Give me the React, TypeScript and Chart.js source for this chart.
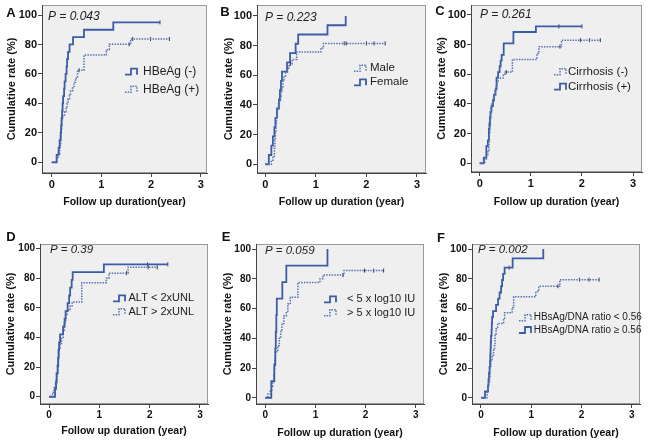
import React, { useEffect, useRef } from "react";
import { Chart, registerables } from "chart.js";
Chart.register(...registerables);

const FONT = '"Liberation Sans", Arial, Helvetica, sans-serif';
const SOLID = "#3d5ca8";
const DOTTED = "#5872b4";
const MARK = "#2a3558";

const xTicks = [0, 1, 2, 3];
const yTicks = [0, 20, 40, 60, 80, 100];
const yTitle = "Cumulative rate (%)";
const xTitles = [
  "Follow up duration(year)",
  "Follow up duration (year)",
  "Follow up duration (year)",
  "Follow up duration (year)",
  "Follow up duration (year)",
  "Follow up duration (year)",
];
const panelLetters = ["A", "B", "C", "D", "E", "F"];
const pValues = ["0.043", "0.223", "0.261", "0.39", "0.059", "0.002"];

// Panel A
const hbeagNegTimes = [0, 0.1, 0.14, 0.16, 0.18, 0.19, 0.2, 0.21, 0.22, 0.23, 0.25, 0.26, 0.28, 0.3, 0.31, 0.33, 0.36, 0.43, 0.65, 1.24];
const hbeagNegRates = [0, 5, 10, 15, 20, 25, 30, 35, 40, 45, 50, 55, 60, 65, 70, 75, 80, 85, 90, 95];
const hbeagNegCensored = [2.18];
const hbeagPosTimes = [0, 0.1, 0.13, 0.16, 0.18, 0.19, 0.2, 0.22, 0.26, 0.29, 0.31, 0.33, 0.36, 0.38, 0.42, 0.45, 0.48, 0.52, 0.65, 1.1, 1.16, 1.59];
const hbeagPosRates = [0, 2.9, 5.7, 11.4, 17.1, 22.9, 28.6, 31.4, 34.3, 37.1, 40, 42.9, 45.7, 48.6, 51.4, 54.3, 57.1, 62.5, 72.9, 76.5, 80.1, 83.7];
const hbeagPosCensored = [0.55, 1.56, 1.63, 1.99, 2.37];

// Panel B
const maleTimes = [0, 0.12, 0.15, 0.18, 0.19, 0.2, 0.21, 0.22, 0.24, 0.26, 0.28, 0.3, 0.31, 0.33, 0.35, 0.37, 0.4, 0.44, 0.47, 0.53, 0.62, 1.1, 1.15];
const maleRates = [0, 2.7, 5.4, 10.8, 16.2, 21.6, 27, 32.4, 37.8, 40.5, 43.2, 45.9, 48.6, 51.4, 56.8, 59.5, 62.2, 64.9, 67.6, 70.7, 75.7, 78.4, 81.5];
const maleCensored = [0.5, 1.56, 1.6, 2.0, 2.15, 2.37];
const femaleTimes = [0, 0.07, 0.12, 0.15, 0.18, 0.2, 0.23, 0.27, 0.29, 0.31, 0.33, 0.43, 0.49, 0.6, 0.65, 1.23, 1.59];
const femaleRates = [0, 6.25, 12.5, 18.75, 25, 31.25, 37.5, 43.75, 50, 56.25, 62.5, 68.75, 75, 81.25, 87.5, 93.75, 100];
const femaleCensored: number[] = [];

// Panel C
const cirrNegTimes = [0, 0.1, 0.13, 0.16, 0.18, 0.19, 0.2, 0.21, 0.22, 0.24, 0.26, 0.28, 0.3, 0.32, 0.34, 0.36, 0.46, 0.5, 0.64, 1.12, 1.16, 1.6];
const cirrNegRates = [0, 2.9, 5.7, 8.6, 14.3, 20, 25.7, 31.4, 37.1, 40, 42.9, 45.7, 48.6, 51.4, 54.3, 57.5, 60, 61.5, 70, 74, 78.6, 83];
const cirrNegCensored = [0.52, 1.57, 1.97, 2.15, 2.36];
const cirrPosTimes = [0, 0.08, 0.13, 0.16, 0.18, 0.19, 0.2, 0.21, 0.23, 0.26, 0.28, 0.31, 0.33, 0.36, 0.39, 0.41, 0.43, 0.47, 0.66, 1.1];
const cirrPosRates = [0, 3.8, 11.5, 15.4, 23.1, 26.9, 30.8, 34.6, 38.5, 42.3, 46.2, 50, 57.7, 61.5, 65.4, 69.2, 73.1, 80.8, 88.5, 92.3];
const cirrPosCensored = [1.55, 2.0];

// Panel D
const altLowTimes = [0, 0.12, 0.14, 0.15, 0.17, 0.18, 0.19, 0.2, 0.22, 0.28, 0.31, 0.33, 0.37, 0.4, 0.42, 0.45, 0.47, 1.09];
const altLowRates = [0, 5.3, 10.5, 15.8, 21.1, 26.3, 31.6, 36.8, 42.1, 47.4, 52.6, 57.9, 63.2, 68.4, 73.7, 78.9, 84.2, 89.5];
const altLowCensored = [1.96, 2.36];
const altHighTimes = [0, 0.07, 0.1, 0.13, 0.16, 0.18, 0.19, 0.2, 0.22, 0.25, 0.28, 0.3, 0.33, 0.36, 0.42, 0.46, 0.65, 1.14, 1.19, 1.57];
const altHighRates = [0, 3, 6, 9, 15, 21, 27, 33, 36, 40, 45, 50, 55, 58.5, 61.5, 64, 77, 80, 83.5, 87.5];
const altHighCensored = [1.54, 1.97, 2.15];

// Panel E
const dnaLowTimes = [0, 0.12, 0.18, 0.2, 0.21, 0.22, 0.23, 0.34, 0.42, 1.24];
const dnaLowRates = [0, 11.1, 22.2, 33.3, 44.4, 55.6, 66.7, 77.8, 88.9, 100];
const dnaLowCensored: number[] = [];
const dnaHighTimes = [0, 0.05, 0.1, 0.13, 0.15, 0.17, 0.18, 0.19, 0.2, 0.25, 0.28, 0.31, 0.33, 0.37, 0.42, 0.45, 0.5, 0.65, 1.09, 1.15, 1.57];
const dnaHighRates = [0, 2.5, 5, 7.5, 10, 15, 20, 25, 31, 35, 40, 45.5, 50, 55, 58, 63, 67.6, 77.5, 80, 82.5, 85.5];
const dnaHighCensored = [1.55, 1.98, 2.16, 2.36];

// Panel F
const ratioLowTimes = [0, 0.12, 0.14, 0.15, 0.17, 0.18, 0.2, 0.22, 0.25, 0.27, 0.28, 0.3, 0.33, 0.45, 0.47, 0.62, 0.65, 1.09, 1.15, 1.57];
const ratioLowRates = [0, 3.6, 7.1, 10.7, 14.3, 21.4, 25, 28.6, 32.1, 35.7, 42.9, 46.4, 50, 53.6, 57.1, 60.7, 67.9, 71.4, 75, 79.4];
const ratioLowCensored = [1.53, 1.96, 2.15, 2.35];
const ratioHighTimes = [0, 0.08, 0.14, 0.15, 0.16, 0.17, 0.18, 0.185, 0.19, 0.195, 0.2, 0.21, 0.215, 0.22, 0.24, 0.3, 0.34, 0.37, 0.4, 0.42, 0.44, 0.47, 0.63, 1.24];
const ratioHighRates = [0, 4.2, 8.3, 12.5, 16.7, 20.8, 25, 29.2, 33.3, 37.5, 41.7, 45.8, 50, 54.2, 58.3, 62.5, 66.7, 70.8, 75, 79.2, 83.3, 87.5, 93.75, 100];
const ratioHighCensored = [0.56];

type Series = { label: string; solid: boolean; times: number[]; rates: number[]; censored: number[] };
type Cfg = {
  idx: number;
  cx: number; cy: number; w: number; h: number;
  box: [number, number, number, number];
  xRange: [number, number];
  yRange: [number, number];
  tickFont: number;
  xTitleY: number;
  yTitleX: number;
  letterPos: [number, number];
  pPos: [number, number];
  pFont: number;
  iconX: number;
  textX: number;
  rows: number[];
  legendFont: number;
  series: Series[];
};

const panels: Cfg[] = [
  {
    idx: 0, cx: 0, cy: 0, w: 216, h: 221, box: [42, 5, 207, 173],
    xRange: [-0.195, 3.127], yRange: [-7.26, 106.8], tickFont: 11,
    xTitleY: 202, yTitleX: 12, letterPos: [11, 13], pPos: [48, 17], pFont: 12,
    iconX: 125, textX: 143, rows: [71.7, 89.3], legendFont: 12,
    series: [
      { label: "HBeAg (-)", solid: true, times: hbeagNegTimes, rates: hbeagNegRates, censored: hbeagNegCensored },
      { label: "HBeAg (+)", solid: false, times: hbeagPosTimes, rates: hbeagPosRates, censored: hbeagPosCensored },
    ],
  },
  {
    idx: 1, cx: 216, cy: 0, w: 216, h: 221, box: [257, 5, 426, 173],
    xRange: [-0.164, 3.178], yRange: [-5.9, 107.4], tickFont: 11,
    xTitleY: 201.7, yTitleX: 228.5, letterPos: [225, 12], pPos: [265, 17.3], pFont: 12,
    iconX: 354, textX: 370, rows: [68.3, 82.3], legendFont: 11.5,
    series: [
      { label: "Male", solid: false, times: maleTimes, rates: maleRates, censored: maleCensored },
      { label: "Female", solid: true, times: femaleTimes, rates: femaleRates, censored: femaleCensored },
    ],
  },
  {
    idx: 2, cx: 432, cy: 0, w: 217, h: 221, box: [471, 5, 642, 172],
    xRange: [-0.17, 3.176], yRange: [-5.9, 106.7], tickFont: 11,
    xTitleY: 201.7, yTitleX: 442, letterPos: [440, 11], pPos: [480, 15], pFont: 12,
    iconX: 554, textX: 568, rows: [71.7, 86.7], legendFont: 11.5,
    series: [
      { label: "Cirrhosis (-)", solid: false, times: cirrNegTimes, rates: cirrNegRates, censored: cirrNegCensored },
      { label: "Cirrhosis (+)", solid: true, times: cirrPosTimes, rates: cirrPosRates, censored: cirrPosCensored },
    ],
  },
  {
    idx: 3, cx: 0, cy: 221, w: 216, h: 222, box: [40, 244, 208, 404],
    xRange: [-0.179, 3.159], yRange: [-4.9, 103.2], tickFont: 10,
    xTitleY: 431.5, yTitleX: 11.2, letterPos: [11, 237], pPos: [50, 249.5], pFont: 11.5,
    iconX: 113, textX: 128.5, rows: [298.3, 311.7], legendFont: 11,
    series: [
      { label: "ALT < 2xUNL", solid: true, times: altLowTimes, rates: altLowRates, censored: altLowCensored },
      { label: "ALT > 2xUNL", solid: false, times: altHighTimes, rates: altHighRates, censored: altHighCensored },
    ],
  },
  {
    idx: 4, cx: 216, cy: 221, w: 216, h: 222, box: [256, 244, 424, 404],
    xRange: [-0.185, 3.165], yRange: [-4.2, 103.4], tickFont: 10,
    xTitleY: 432.7, yTitleX: 227.5, letterPos: [226, 237], pPos: [265, 250.3], pFont: 11.5,
    iconX: 324, textX: 347, rows: [299.3, 312.7], legendFont: 11,
    series: [
      { label: "< 5 x log10 IU", solid: true, times: dnaLowTimes, rates: dnaLowRates, censored: dnaLowCensored },
      { label: "> 5 x log10 IU", solid: false, times: dnaHighTimes, rates: dnaHighRates, censored: dnaHighCensored },
    ],
  },
  {
    idx: 5, cx: 432, cy: 221, w: 217, h: 222, box: [472, 244, 640, 404],
    xRange: [-0.179, 3.165], yRange: [-4.2, 103.4], tickFont: 10,
    xTitleY: 432.7, yTitleX: 443.5, letterPos: [441, 238], pPos: [478, 249.3], pFont: 11.5,
    iconX: 519, textX: 533.7, rows: [317.7, 330], legendFont: 10,
    series: [
      { label: "HBsAg/DNA ratio < 0.56", solid: false, times: ratioLowTimes, rates: ratioLowRates, censored: ratioLowCensored },
      { label: "HBsAg/DNA ratio \u2265 0.56", solid: true, times: ratioHighTimes, rates: ratioHighRates, censored: ratioHighCensored },
    ],
  },
];

function stepPoints(times: number[], rates: number[], censored: number[]) {
  const pts = times.map((t, i) => ({ x: t, y: rates[i] }));
  const lastT = times[times.length - 1];
  const lastC = censored.length ? Math.max(...censored) : lastT;
  if (lastC > lastT) pts.push({ x: lastC, y: rates[rates.length - 1] });
  return pts;
}

function censorPoints(times: number[], rates: number[], censored: number[]) {
  return censored.map((c) => {
    let v = 0;
    for (let i = 0; i < times.length; i++) if (times[i] <= c) v = rates[i];
    return { x: c, y: v };
  });
}

function lineStyle(solid: boolean) {
  return solid
    ? { color: SOLID, width: 1.8, dash: [] as number[] }
    : { color: DOTTED, width: 1.5, dash: [1.5, 1.2] };
}

function Panel({ cfg }: { cfg: Cfg }) {
  const ref = useRef<HTMLCanvasElement>(null);
  useEffect(() => {
    const c = cfg;
    const [L, T, R, B] = c.box;
    const datasets: any[] = [];
    c.series.forEach((s) => {
      const st = lineStyle(s.solid);
      datasets.push({
        data: stepPoints(s.times, s.rates, s.censored),
        stepped: true,
        borderColor: st.color,
        borderWidth: st.width,
        borderDash: st.dash,
        borderCapStyle: "butt",
        borderJoinStyle: "miter",
        pointRadius: 0,
        pointHoverRadius: 0,
        fill: false,
      });
      if (s.censored.length) {
        datasets.push({
          data: censorPoints(s.times, s.rates, s.censored),
          showLine: false,
          pointStyle: "line",
          pointRotation: 90,
          pointRadius: 2,
          pointHoverRadius: 2,
          pointBorderColor: MARK,
          pointBorderWidth: 1,
          pointBackgroundColor: MARK,
        });
      }
    });

    const decor = {
      id: "decor",
      beforeDraw(chart: any) {
        const { ctx, chartArea: a } = chart;
        ctx.save();
        ctx.fillStyle = "#efefef";
        ctx.fillRect(a.left, a.top, a.right - a.left, a.bottom - a.top);
        ctx.strokeStyle = "#9a9a9a";
        ctx.lineWidth = 1;
        ctx.strokeRect(a.left + 0.5, a.top + 0.5, a.right - a.left - 1, a.bottom - a.top - 1);
        ctx.restore();
      },
      afterDraw(chart: any) {
        const { ctx } = chart;
        ctx.save();
        ctx.fillStyle = "#111";
        ctx.textBaseline = "middle";
        ctx.textAlign = "center";
        ctx.font = `bold 13px ${FONT}`;
        ctx.fillText(panelLetters[c.idx], c.letterPos[0] - c.cx, c.letterPos[1] - c.cy);
        ctx.textAlign = "left";
        ctx.fillStyle = "#222";
        ctx.font = `italic ${c.pFont}px ${FONT}`;
        ctx.fillText(`P = ${pValues[c.idx]}`, c.pPos[0] - c.cx, c.pPos[1] - c.cy);
        c.series.forEach((s, i) => {
          const st = lineStyle(s.solid);
          const y = c.rows[i] - c.cy;
          const x0 = c.iconX - c.cx;
          ctx.beginPath();
          ctx.strokeStyle = st.color;
          ctx.lineWidth = st.width;
          ctx.setLineDash(st.dash);
          ctx.moveTo(x0, y + 3);
          ctx.lineTo(x0 + 6, y + 3);
          ctx.lineTo(x0 + 6, y - 3);
          ctx.lineTo(x0 + 12, y - 3);
          ctx.lineTo(x0 + 12, y + 3);
          ctx.stroke();
          ctx.setLineDash([]);
          ctx.fillStyle = "#222";
          ctx.font = `${c.legendFont}px ${FONT}`;
          ctx.fillText(s.label, c.textX - c.cx, y);
        });
        ctx.restore();
      },
    };

    const chart = new Chart(ref.current as HTMLCanvasElement, {
      type: "line",
      data: { datasets },
      options: {
        animation: false,
        responsive: false,
        devicePixelRatio: 1,
        events: [],
        layout: { padding: { left: 0, top: T - c.cy, right: c.cx + c.w - R, bottom: 0 } },
        plugins: { legend: { display: false }, tooltip: { enabled: false } },
        scales: {
          x: {
            type: "linear",
            min: c.xRange[0],
            max: c.xRange[1],
            afterBuildTicks: (s: any) => {
              s.ticks = xTicks.map((v) => ({ value: v }));
            },
            afterFit: (s: any) => {
              s.height = c.cy + c.h - B;
              s.paddingLeft = 0;
              s.paddingRight = 0;
            },
            ticks: {
              font: { family: FONT, size: c.tickFont, weight: "bold" },
              color: "#111",
              padding: 1,
              maxRotation: 0,
              autoSkip: false,
              callback: (v: any) => String(v),
            },
            grid: { drawOnChartArea: false, drawTicks: true, tickLength: 4, color: "#444", lineWidth: 1 },
            border: { display: true, color: "#444", width: 1 },
            title: {
              display: true,
              text: xTitles[c.idx],
              color: "#111",
              font: { family: FONT, size: 10.5, weight: "bold", lineHeight: 1.2 },
              padding: { top: 0, bottom: c.cy + c.h - c.xTitleY - 6.3 },
            },
          },
          y: {
            type: "linear",
            min: c.yRange[0],
            max: c.yRange[1],
            afterBuildTicks: (s: any) => {
              s.ticks = yTicks.map((v) => ({ value: v }));
            },
            afterFit: (s: any) => {
              s.width = L - c.cx;
              s.paddingTop = 0;
              s.paddingBottom = 0;
            },
            ticks: {
              font: { family: FONT, size: c.tickFont, weight: "bold" },
              color: "#111",
              padding: 1,
              autoSkip: false,
              callback: (v: any) => String(v),
            },
            grid: { drawOnChartArea: false, drawTicks: true, tickLength: 4, color: "#444", lineWidth: 1 },
            border: { display: true, color: "#444", width: 1 },
            title: {
              display: true,
              text: yTitle,
              color: "#111",
              font: { family: FONT, size: 11, weight: "bold", lineHeight: 1.2 },
              padding: { top: c.yTitleX - c.cx - 6.6, bottom: 0 },
            },
          },
        },
      } as any,
      plugins: [decor],
    });
    return () => chart.destroy();
  }, [cfg]);
  return (
    <canvas
      ref={ref}
      width={cfg.w}
      height={cfg.h}
      style={{ position: "absolute", left: cfg.cx, top: cfg.cy, width: cfg.w, height: cfg.h }}
    />
  );
}

export default function App() {
  return (
    <div style={{ position: "absolute", left: 0, top: 0, width: 649, height: 443, background: "#fff", overflow: "hidden" }}>
      {panels.map((p) => (
        <Panel key={p.idx} cfg={p} />
      ))}
    </div>
  );
}
